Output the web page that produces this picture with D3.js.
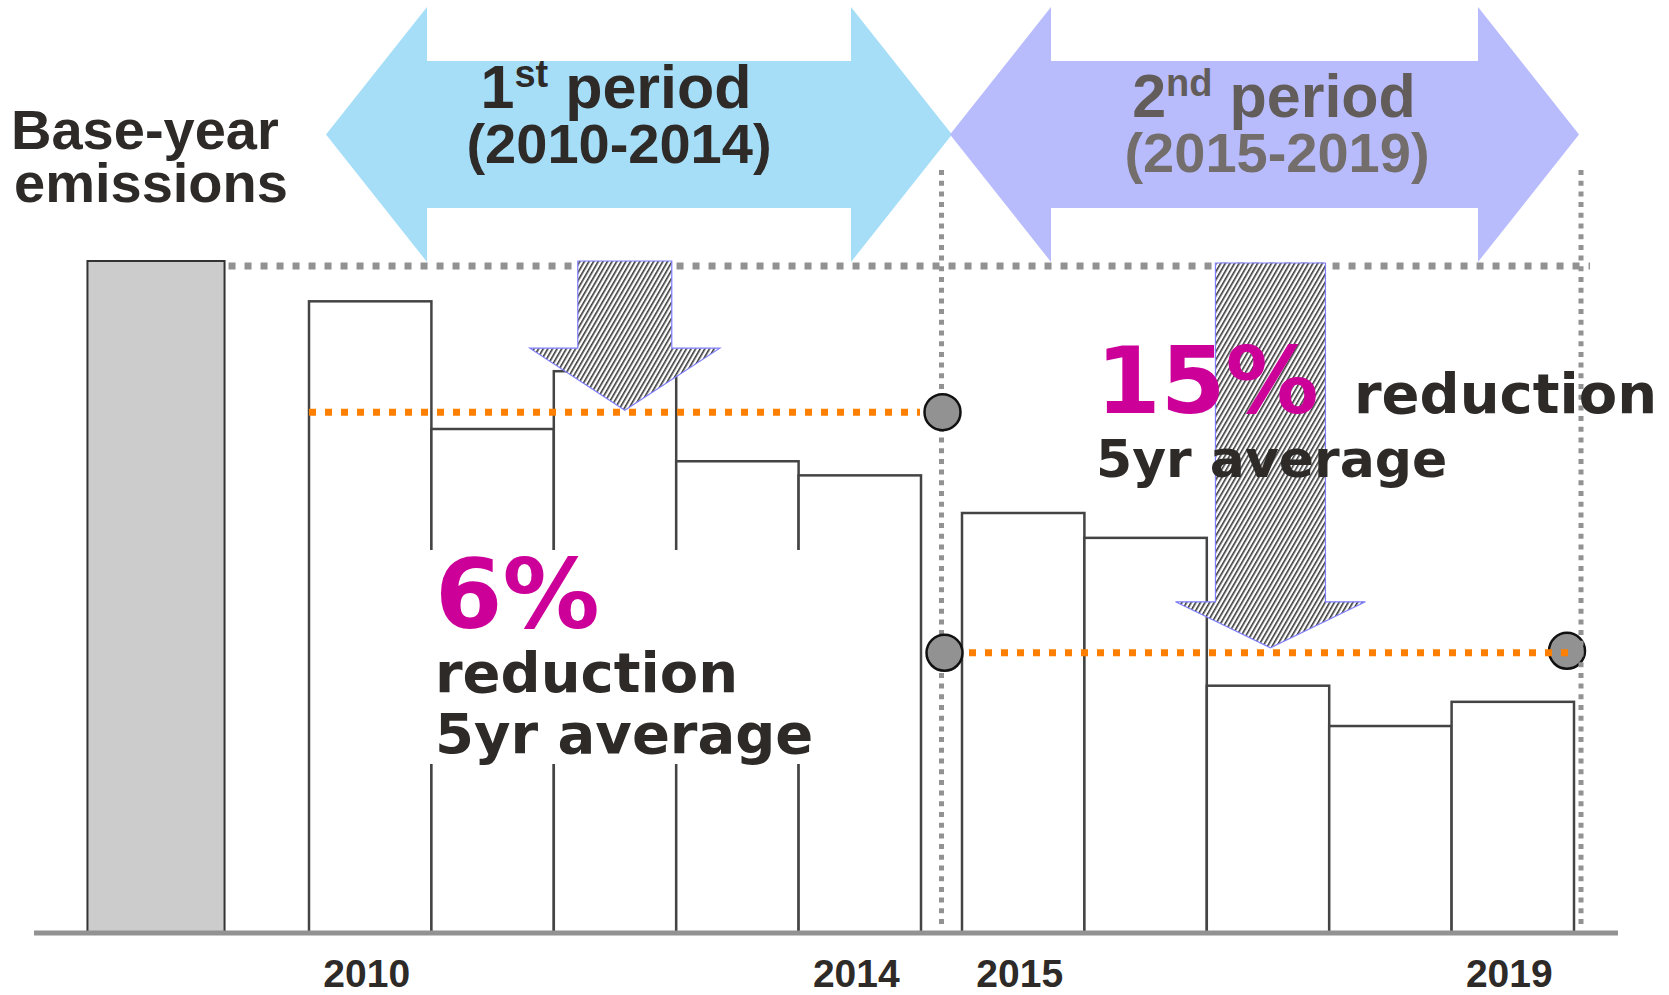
<!DOCTYPE html>
<html>
<head>
<meta charset="utf-8">
<script src="https://cdn.jsdelivr.net/npm/d3@7"></script>
<style>
  html, body { margin: 0; padding: 0; background: #fff; }
  svg { display: block; }
  .arial { font-family: 'Liberation Sans', Arial, sans-serif; font-weight: bold; }
  .verdana { font-family: 'DejaVu Sans', Verdana, sans-serif; font-weight: bold; }
</style>
</head>
<body>
<svg id="chart" width="1669" height="995"></svg>
<script>
// Emissions per year, base year = 100
const years = [2010, 2011, 2012, 2013, 2014, 2015, 2016, 2017, 2018, 2019];
const emissions = [94.0, 75.0, 83.6, 70.2, 68.1, 62.5, 58.8, 36.8, 30.8, 34.4];
const baseYearEmission = 100;

// Commitment periods
const periodOrdinals = ['1', '2'];
const periodSuffixes = ['st', 'nd'];
const periodRanges = ['(2010-2014)', '(2015-2019)'];
const periodStarts = [2010, 2015];
const periodAverages = [77.5, 41.7];
const reductionLabels = ['6%', '15%'];

// Year labels shown under the axis
const yearTicks = [2010, 2014, 2015, 2019];

const svg = d3.select('#chart');
const ink = '#2d2a28';
const magenta = '#cc0099';

// Scales
const x = d3.scaleLinear().domain([2010, 2020]).range([309, 1533]);
const periodGap = 41;
const barLeft = yr => x(yr) + (yr >= periodStarts[1] ? periodGap : 0);
const barW = x(2011) - x(2010);
const y = d3.scaleLinear().domain([0, 100]).range([933, 261]);
const divider = x(periodStarts[1]) + periodGap / 2;
const rightEdge = x(2020) + periodGap;

// Hatch pattern for the reduction arrows
const defs = svg.append('defs');
const hatch = defs.append('pattern')
  .attr('id', 'hatch')
  .attr('patternUnits', 'userSpaceOnUse')
  .attr('width', 4)
  .attr('height', 4)
  .attr('patternTransform', 'rotate(30)');
hatch.append('rect').attr('width', 4).attr('height', 4).attr('fill', '#fff');
hatch.append('rect').attr('width', 1.6).attr('height', 4).attr('fill', '#383838');

// Base-year bar
const baseX0 = x(2008.19), baseX1 = x(2009.31);
svg.append('rect')
  .attr('x', baseX0)
  .attr('y', y(baseYearEmission))
  .attr('width', baseX1 - baseX0)
  .attr('height', y(0) - y(baseYearEmission))
  .attr('fill', '#cccccc')
  .attr('stroke', '#333')
  .attr('stroke-width', 2);

// Yearly bars
svg.append('g').selectAll('rect')
  .data(years)
  .join('rect')
  .attr('x', d => barLeft(d))
  .attr('y', (d, i) => y(emissions[i]))
  .attr('width', barW)
  .attr('height', (d, i) => y(0) - y(emissions[i]))
  .attr('fill', '#fff')
  .attr('stroke', '#444')
  .attr('stroke-width', 2.5);

// White box behind the first-period label
svg.append('rect')
  .attr('x', 425).attr('y', 550)
  .attr('width', 405).attr('height', 214)
  .attr('fill', '#fff');

// Base level dotted line
svg.append('line')
  .attr('x1', baseX1 + 4).attr('x2', rightEdge + 16)
  .attr('y1', y(baseYearEmission) + 5).attr('y2', y(baseYearEmission) + 5)
  .attr('stroke', '#929292')
  .attr('stroke-width', 7)
  .attr('stroke-dasharray', '7 9');

// Period divider
svg.append('line')
  .attr('x1', divider).attr('x2', divider)
  .attr('y1', 170).attr('y2', 926)
  .attr('stroke', '#929292')
  .attr('stroke-width', 5)
  .attr('stroke-dasharray', '5 5.7');

// Average markers
const marker = (cx, cy) => svg.append('circle')
  .attr('cx', cx).attr('cy', cy).attr('r', 18)
  .attr('fill', '#929292')
  .attr('stroke', '#111')
  .attr('stroke-width', 2.5);
marker(divider + 1, y(periodAverages[0]));
marker(divider + 3, y(periodAverages[1]));
marker(rightEdge - 7, y(periodAverages[1]) - 2);

// Right dotted border
svg.append('line')
  .attr('x1', rightEdge + 7).attr('x2', rightEdge + 7)
  .attr('y1', 170).attr('y2', 926)
  .attr('stroke', '#929292')
  .attr('stroke-width', 5)
  .attr('stroke-dasharray', '5 5.7');

// Five-year average lines
const avgSpans = [
  [x(periodStarts[0]), x(periodStarts[1]) - 1],
  [x(periodStarts[1]) + periodGap + 7, rightEdge - 6]
];
avgSpans.forEach((s, i) => {
  svg.append('line')
    .attr('x1', s[0]).attr('x2', s[1])
    .attr('y1', y(periodAverages[i])).attr('y2', y(periodAverages[i]))
    .attr('stroke', '#ff8000')
    .attr('stroke-width', 7)
    .attr('stroke-dasharray', '7 9');
});

// Hatched down arrows from base level to the period average
function downArrow(cx, top, tipY, headH, shaftHalf, headHalf) {
  const hy = tipY - headH;
  return `M${cx - shaftHalf},${top} L${cx + shaftHalf},${top} L${cx + shaftHalf},${hy}` +
    ` L${cx + headHalf},${hy} L${cx},${tipY} L${cx - headHalf},${hy} L${cx - shaftHalf},${hy} Z`;
}
svg.append('path')
  .attr('d', downArrow(x(2012.58), y(baseYearEmission), y(periodAverages[0]) - 2, 62, 47, 95))
  .attr('fill', 'url(#hatch)')
  .attr('stroke', '#7f7fff')
  .attr('stroke-width', 1.2);
svg.append('path')
  .attr('d', downArrow(x(2017.52) + periodGap, y(baseYearEmission) + 2, y(periodAverages[1]) - 5, 46, 55, 95))
  .attr('fill', 'url(#hatch)')
  .attr('stroke', '#7f7fff')
  .attr('stroke-width', 1.2);

// Double-headed period arrows
function doubleArrow(x0, x1, cy, headLen, headHalf, shaftHalf) {
  return `M${x0},${cy} L${x0 + headLen},${cy - headHalf} L${x0 + headLen},${cy - shaftHalf}` +
    ` L${x1 - headLen},${cy - shaftHalf} L${x1 - headLen},${cy - headHalf} L${x1},${cy}` +
    ` L${x1 - headLen},${cy + headHalf} L${x1 - headLen},${cy + shaftHalf}` +
    ` L${x0 + headLen},${cy + shaftHalf} L${x0 + headLen},${cy + headHalf} Z`;
}
const arrowSpans = [
  [x(2010) + 17, x(2015) + 31],
  [x(2015) + periodGap - 12, rightEdge + 5]
];
const arrowFills = ['#a6def8', '#b8bcfc'];
arrowSpans.forEach((s, i) => {
  svg.append('path')
    .attr('d', doubleArrow(s[0], s[1], 134.5, 101, 127.5, 73.5))
    .attr('fill', arrowFills[i]);
});

// Period titles
const titleColors = [[ink, ink], ['#625c5a', '#736d6b']];
const titleX = [616, 1274];
const titleY = [[108, 163], [117, 172]];
periodOrdinals.forEach((ord, i) => {
  const t = svg.append('text')
    .attr('class', 'arial')
    .attr('x', titleX[i])
    .attr('y', titleY[i][0])
    .attr('text-anchor', 'middle')
    .attr('font-size', 61)
    .attr('fill', titleColors[i][0]);
  t.append('tspan').text(ord);
  t.append('tspan').attr('dy', -21).attr('font-size', 38).text(periodSuffixes[i]);
  t.append('tspan').attr('dy', 21).text(' period');
  svg.append('text')
    .attr('class', 'arial')
    .attr('x', titleX[i] + 3)
    .attr('y', titleY[i][1])
    .attr('text-anchor', 'middle')
    .attr('font-size', 56)
    .attr('fill', titleColors[i][1])
    .text(periodRanges[i]);
});

// Base-year label
svg.append('text').attr('class', 'arial')
  .attr('x', 11).attr('y', 149).attr('font-size', 56).attr('fill', ink)
  .text('Base-year');
svg.append('text').attr('class', 'arial')
  .attr('x', 14).attr('y', 202).attr('font-size', 56).attr('fill', ink)
  .text('emissions');

// Reduction labels
svg.append('text').attr('class', 'verdana')
  .attr('x', 435).attr('y', 628).attr('font-size', 97).attr('fill', magenta)
  .text(reductionLabels[0]);
svg.append('text').attr('class', 'verdana')
  .attr('x', 435).attr('y', 692).attr('font-size', 56).attr('fill', ink)
  .text('reduction');
svg.append('text').attr('class', 'verdana')
  .attr('x', 435).attr('y', 753).attr('font-size', 56).attr('fill', ink)
  .text('5yr average');

svg.append('text').attr('class', 'verdana')
  .attr('x', 1096).attr('y', 413).attr('font-size', 93).attr('fill', magenta)
  .text(reductionLabels[1]);
svg.append('text').attr('class', 'verdana')
  .attr('x', 1354).attr('y', 413).attr('font-size', 56).attr('fill', ink)
  .text('reduction');
svg.append('text').attr('class', 'verdana')
  .attr('x', 1096).attr('y', 477).attr('font-size', 52).attr('fill', ink)
  .text('5yr average');

// X axis
svg.append('line')
  .attr('x1', 34).attr('x2', 1618)
  .attr('y1', y(0)).attr('y2', y(0))
  .attr('stroke', '#929292')
  .attr('stroke-width', 5);

const tickScale = d3.scaleOrdinal()
  .domain(yearTicks)
  .range(yearTicks.map(d => barLeft(d) + barW / 2 - 4));
const axis = svg.append('g')
  .attr('transform', `translate(0,${y(0)})`)
  .call(d3.axisBottom(tickScale).tickSize(0).tickFormat(d3.format('d')));
axis.select('.domain').remove();
axis.selectAll('text')
  .attr('class', 'arial')
  .attr('y', 54)
  .attr('dy', 0)
  .attr('font-size', 39)
  .attr('fill', ink);
</script>
</body>
</html>
